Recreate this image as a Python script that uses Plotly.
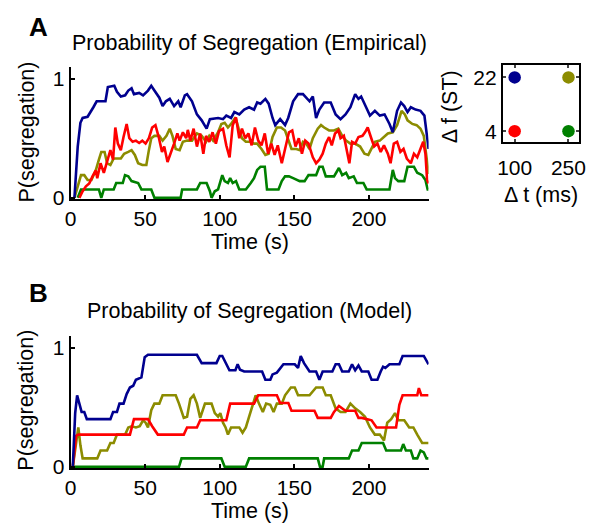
import plotly.graph_objects as go

# ---------------- DATA ----------------
# Panel A (Empirical)
a_blue_t = [2.6, 4.8, 6.6, 8.1, 11.4, 13.1, 15.3, 17.5, 23.4, 25, 29.3, 31.1, 33.7, 36.6, 38.7, 40.9, 42.5, 46, 48.6, 51.9,
            54.1, 56.2, 59.5, 61.7, 63.9, 66.5, 69.4, 72.2, 73.8, 76.6, 78.1, 81.4, 84.7, 87.9, 91.2, 93.4, 98.9, 102.2, 104.4, 107.6,
            109.8, 113.1, 116.4, 119.7, 123, 125.1, 127.3, 130.6, 132.8, 135.4, 137.2, 140.5, 143.8, 145.9, 149.2, 152.5, 155.8, 160.2, 162.4, 164.6,
            166.8, 170, 174.4, 177.7, 181, 184.3, 187.6, 190.8, 193, 194.8, 196.3, 200.7, 204, 207.3, 210.5, 213.8, 216, 218.9, 221.5, 223.7,
            225.9, 228.1, 231.3, 234.6, 237.2, 239, 240]
a_blue_v = [0, 0.43, 0.63, 0.67, 0.68, 0.72, 0.76, 0.81, 0.81, 0.93, 0.94, 0.89, 0.85, 0.86, 0.9, 0.92, 0.87, 0.88, 0.86, 0.9,
            0.94, 0.9, 0.84, 0.77, 0.81, 0.83, 0.77, 0.81, 0.76, 0.86, 0.87, 0.81, 0.70, 0.65, 0.58, 0.66, 0.67, 0.66, 0.69, 0.67,
            0.72, 0.70, 0.74, 0.76, 0.74, 0.80, 0.79, 0.83, 0.79, 0.67, 0.61, 0.66, 0.61, 0.67, 0.81, 0.87, 0.87, 0.81, 0.85, 0.67,
            0.74, 0.80, 0.80, 0.70, 0.66, 0.70, 0.76, 0.87, 0.83, 0.85, 0.81, 0.69, 0.73, 0.69, 0.70, 0.62, 0.55, 0.73, 0.80, 0.77,
            0.72, 0.76, 0.74, 0.73, 0.69, 0.48, 0.41]

a_red_t = [5.9, 8.1, 10.3, 12.5, 14.7, 16.9, 17.9, 20.1, 22.3, 24.5, 26.7, 28.5, 30, 31.7, 33.7, 35.5, 37.6, 39.4, 41.6, 43.8,
           46, 48.1, 50.3, 52.5, 54.7, 56.9, 59.1, 61.3, 62.8, 65, 67.2, 69.4, 71.6, 73.1, 75.3, 77.5, 78.6, 80.3, 82.5, 84.7,
           86.9, 89.0, 90.8, 93, 95.2, 97.4, 99.5, 102.2, 104.4, 106.6, 108.7, 110.9, 113.1, 114.9, 117.1, 119.2, 121.4, 123.6, 125.8, 128,
           130.2, 132.4, 134.6, 136.8, 138.9, 141.6, 143.8, 146.4, 148.6, 150.8, 153, 155.1, 157.3, 159.5, 162.4, 164.6, 166.8, 169, 171.1, 173.3,
           175.1, 177.3, 179.5, 181, 183.2, 185.4, 186.9, 188.7, 190.8, 193, 195.7, 197.4, 199.2, 201.3, 203.5, 205.7, 207.9, 210.1, 212.7, 214.5,
           216.7, 218.9, 221.1, 223.2, 225.4, 228.1, 230.2, 232.4, 234.6, 236.4, 237.9, 239, 240]
a_red_v = [0, 0.055, 0.096, 0.12, 0.18, 0.23, 0.165, 0.29, 0.21, 0.30, 0.40, 0.32, 0.59, 0.455, 0.40, 0.51, 0.62, 0.50, 0.47, 0.48,
           0.46, 0.48, 0.455, 0.50, 0.59, 0.61, 0.51, 0.385, 0.43, 0.30, 0.37, 0.455, 0.54, 0.48, 0.55, 0.50, 0.57, 0.48, 0.58, 0.43,
           0.54, 0.37, 0.52, 0.47, 0.55, 0.455, 0.56, 0.58, 0.44, 0.34, 0.61, 0.675, 0.50, 0.58, 0.50, 0.54, 0.44, 0.59, 0.48, 0.44,
           0.54, 0.37, 0.455, 0.36, 0.44, 0.29, 0.41, 0.55, 0.565, 0.43, 0.50, 0.37, 0.48, 0.455, 0.34, 0.29, 0.32, 0.37, 0.455, 0.51,
           0.44, 0.54, 0.565, 0.50, 0.52, 0.40, 0.29, 0.47, 0.455, 0.51, 0.52, 0.55, 0.59, 0.51, 0.43, 0.455, 0.385, 0.44, 0.37, 0.29,
           0.455, 0.47, 0.385, 0.41, 0.33, 0.29, 0.37, 0.34, 0.41, 0.47, 0.37, 0.15, 0.12]

a_olive_t = [2.6, 4.8, 7, 9.2, 11.4, 14, 16.9, 19, 20.6, 22.8, 24.5, 26.7, 28.9, 33.7, 35.9, 38.7, 40.9, 43.1, 45.3, 48.1,
             50.8, 52.5, 54.1, 56.2, 59.5, 61.7, 64.3, 66.5, 68.3, 70.5, 73.1, 75.3, 78.1, 81.4, 84.7, 87.9, 90.8, 93, 95.6, 98.9,
             101.1, 103.3, 105.5, 107.6, 110.5, 112.7, 114.9, 117.5, 120.8, 123, 125.1, 128, 130.6, 132.8, 135.4, 138.3, 141.1, 143.8, 145.9, 148.1,
             151.4, 153.6, 155.8, 158, 160.2, 162.4, 165.7, 167.9, 170, 173.3, 176.6, 179.5, 182.1, 184.7, 187.6, 190.8, 194.1, 197, 199.6, 201.8,
             204, 207.3, 210.1, 212.7, 216, 218.9, 221.9, 224.1, 225.9, 229.1, 232, 234.6, 236.8, 238.6, 240]
a_olive_v = [0, 0.096, 0.19, 0.19, 0.15, 0.15, 0.23, 0.32, 0.385, 0.385, 0.29, 0.275, 0.33, 0.33, 0.37, 0.385, 0.40, 0.36, 0.29, 0.275,
             0.275, 0.40, 0.50, 0.52, 0.52, 0.48, 0.52, 0.58, 0.52, 0.41, 0.40, 0.47, 0.48, 0.48, 0.54, 0.52, 0.47, 0.52, 0.48, 0.55,
             0.62, 0.63, 0.59, 0.62, 0.675, 0.58, 0.50, 0.47, 0.47, 0.455, 0.455, 0.41, 0.36, 0.37, 0.51, 0.59, 0.59, 0.565, 0.48, 0.41,
             0.41, 0.40, 0.47, 0.455, 0.41, 0.50, 0.58, 0.61, 0.59, 0.565, 0.565, 0.58, 0.52, 0.48, 0.455, 0.455, 0.43, 0.37, 0.36, 0.41,
             0.47, 0.48, 0.515, 0.54, 0.55, 0.61, 0.73, 0.70, 0.65, 0.62, 0.61, 0.58, 0.52, 0.34, 0.20]

a_green_t = [4.8, 7, 19, 20.6, 22.3, 28.9, 30.6, 35, 36.5, 38.7, 40.9, 45.3, 47.5, 54.1, 56.2, 73.8, 74.8, 84.7, 86.9, 91.2,
             93.4, 94.5, 96.7, 98.9, 101.7, 103.3, 105.5, 107, 108.7, 110.9, 113.1, 117.5, 120.8, 123, 125.1, 127.3, 130.2, 131.7, 139.4, 141.6,
             143.8, 146.4, 149.2, 153.6, 156.9, 159.5, 164.6, 166.8, 169, 171.1, 176.6, 179.9, 182.1, 184.7, 186.5, 189.8, 192, 196.3, 198.5, 213.8,
             216, 217.5, 219.7, 223.7, 225.9, 230.2, 232.4, 235.7, 237.9, 239.4, 240]
a_green_v = [0, 0.07, 0.07, 0.0, 0.07, 0.07, 0.124, 0.124, 0.19, 0.18, 0.14, 0.124, 0.07, 0.07, 0, 0, 0.07, 0.07, 0.124, 0.124,
             0.055, 0, 0.055, 0.07, 0.19, 0.14, 0.124, 0.165, 0.124, 0.14, 0.07, 0.07, 0.124, 0.165, 0.234, 0.26, 0.26, 0.07, 0.07, 0.14,
             0.18, 0.18, 0.165, 0.14, 0.14, 0.19, 0.19, 0.26, 0.26, 0.18, 0.18, 0.25, 0.19, 0.21, 0.165, 0.18, 0.124, 0.124, 0.07, 0.07,
             0.234, 0.165, 0.14, 0.14, 0.26, 0.26, 0.21, 0.19, 0.15, 0.07, 0.07]

# Panel B (Model)
b_blue_t = [1.5, 3.1, 4.4, 5.9, 7.4, 9.2, 10.9, 26.7, 28.5, 31.1, 32.8, 35.5, 37.6, 39.8, 42, 43.8, 47.5, 49.7, 51.9, 84.7,
            87.9, 97.8, 100, 101.7, 103.9, 106.5, 110.5, 112, 113.6, 116.4, 128.4, 130.6, 133.9, 135.4, 138.3, 142.7, 150.3, 152.5, 154.3, 156.5,
            160.2, 164.6, 166.8, 169, 175.5, 177.7, 179.9, 182.1, 186.5, 188.7, 190.8, 193, 195.2, 199.6, 201.8, 205.7, 207.9, 209.5, 211, 213.8,
            220.4, 222.6, 236.8, 240]
b_blue_v = [0, 0.45, 0.60, 0.53, 0.46, 0.46, 0.40, 0.40, 0.46, 0.46, 0.53, 0.53, 0.61, 0.665, 0.68, 0.73, 0.75, 0.92, 0.94, 0.94,
            0.87, 0.87, 0.93, 0.93, 0.87, 0.81, 0.81, 0.86, 0.815, 0.80, 0.80, 0.73, 0.73, 0.775, 0.79, 0.86, 0.86, 0.83, 0.93, 0.87,
            0.80, 0.80, 0.73, 0.80, 0.80, 0.86, 0.86, 0.80, 0.80, 0.86, 0.81, 0.85, 0.80, 0.80, 0.73, 0.73, 0.80, 0.84, 0.83, 0.86,
            0.86, 0.93, 0.93, 0.86]

b_red_t = [1.5, 3.7, 5.2, 39.8, 42.5, 51.9, 54.7, 58.5, 75.9, 78.1, 84.7, 86.9, 104.4, 107, 123, 125.8, 138.3, 140.5, 146, 148.1,
           163.5, 165.7, 174.4, 176.6, 179.9, 182.1, 184.3, 190.8, 193, 195.2, 198.5, 201.8, 205.1, 218.2, 220.4, 222.6, 232.4, 233.5, 235.1, 240]
b_red_v = [0, 0.26, 0.27, 0.27, 0.40, 0.40, 0.34, 0.27, 0.27, 0.33, 0.33, 0.39, 0.39, 0.53, 0.53, 0.60, 0.60, 0.535, 0.535, 0.47,
           0.47, 0.41, 0.41, 0.46, 0.51, 0.49, 0.47, 0.47, 0.41, 0.41, 0.40, 0.39, 0.33, 0.33, 0.52, 0.60, 0.60, 0.66, 0.60, 0.60]

b_olive_t = [1.5, 3.7, 5.2, 6.6, 8.1, 17.9, 20.1, 24.5, 26.7, 28.9, 31.1, 36.6, 38.7, 40.9, 43.8, 46.4, 48.6, 50.3, 51.9, 54.1,
             56.2, 59.5, 61.7, 70.5, 72.7, 75.9, 78.1, 80.3, 82.5, 84.7, 86.9, 90.1, 94.5, 96.7, 98.9, 100.4, 102.2, 103.9, 105.5, 107.6,
             113.1, 115.3, 117.5, 119.7, 121.9, 124.1, 126.3, 128.9, 131.1, 133.9, 136.1, 138.3, 141.6, 143.8, 147.7, 150.3, 152.5, 156.9, 160.2, 164.6,
             169, 171.1, 174.4, 177.7, 181, 184.3, 187.6, 190.8, 194.1, 197.4, 200.7, 204, 207.3, 210.1, 212.3, 214.9, 217.5, 219.7, 223.7, 227,
             229.8, 232.4, 235.7, 240]
b_olive_v = [0, 0.20, 0.33, 0.18, 0.07, 0.07, 0.136, 0.136, 0.20, 0.20, 0.27, 0.27, 0.33, 0.34, 0.33, 0.34, 0.39, 0.37, 0.33, 0.475,
             0.53, 0.53, 0.60, 0.60, 0.53, 0.41, 0.42, 0.57, 0.60, 0.53, 0.41, 0.53, 0.53, 0.45, 0.42, 0.45, 0.37, 0.33, 0.27, 0.33,
             0.33, 0.285, 0.33, 0.42, 0.52, 0.60, 0.53, 0.46, 0.53, 0.52, 0.46, 0.53, 0.53, 0.60, 0.665, 0.665, 0.60, 0.60, 0.60, 0.665,
             0.665, 0.60, 0.60, 0.49, 0.46, 0.46, 0.53, 0.49, 0.46, 0.42, 0.33, 0.27, 0.27, 0.22, 0.37, 0.40, 0.45, 0.39, 0.39, 0.33,
             0.33, 0.27, 0.20, 0.20]

b_green_t = [1.5, 72.7, 74.4, 101.1, 103.3, 117.5, 119.7, 165.7, 167.2, 169, 170, 186.5, 188.7, 193, 195.2, 209.5, 211.6, 221.5, 223, 224.8,
             228.1, 229.8, 232.4, 234.6, 236.8, 238.6, 240]
b_green_v = [0, 0, 0.07, 0.07, 0, 0, 0.07, 0.07, 0, 0, 0.07, 0.07, 0.136, 0.136, 0.20, 0.20, 0.136, 0.136, 0.19, 0.136,
             0.136, 0.07, 0.07, 0.136, 0.12, 0.07, 0.07]

# Legend panel (condition key)
key_dt = [100, 250, 100, 250]      # Δt (ms)
key_df = [22, 22, 4, 4]            # Δf (ST)
key_names = ["blue", "olive", "red", "green"]

x_ticks = [0, 50, 100, 150, 200]
y_ticks = [0, 1]

COL = {"blue": "#00008F", "red": "#FF0000", "olive": "#8C8C00", "green": "#008000"}

# ---------------- FIGURE ----------------
W, H = 596, 532
FONT = "Liberation Sans, Arial, Helvetica, sans-serif"
FS = 21      # tick labels
FT = 21.5    # titles
LW = 2.6

# Target positions are given in picture pixels; the photographed page shows
# the content slightly compressed vertically, so stretch a little.
SY = 0.985


def PX(x):
    return x / W


def PY(y):
    return 1 - (y / SY) / H


def dx(a, b):
    return [PX(a), PX(b)]


def dy(top, bottom):
    return [PY(bottom), PY(top)]


fig = go.Figure()

series_a = [("green", a_green_t, a_green_v), ("olive", a_olive_t, a_olive_v),
            ("red", a_red_t, a_red_v), ("blue", a_blue_t, a_blue_v)]
series_b = [("green", b_green_t, b_green_v), ("olive", b_olive_t, b_olive_v),
            ("red", b_red_t, b_red_v), ("blue", b_blue_t, b_blue_v)]

for name, t, v in series_a:
    fig.add_trace(go.Scatter(x=t, y=v, mode="lines", line=dict(color=COL[name], width=LW),
                             xaxis="x", yaxis="y", hoverinfo="skip"))
for name, t, v in series_b:
    fig.add_trace(go.Scatter(x=t, y=v, mode="lines", line=dict(color=COL[name], width=LW),
                             xaxis="x2", yaxis="y2", hoverinfo="skip"))
fig.add_trace(go.Scatter(x=key_dt, y=key_df, mode="markers",
                         marker=dict(color=[COL[n] for n in key_names], size=12.5, line=dict(width=0)),
                         xaxis="x3", yaxis="y3", hoverinfo="skip"))

common_x = dict(range=[0, 240], tickvals=x_ticks, ticks="inside", ticklen=4, tickwidth=2,
                showline=True, linewidth=2, linecolor="black", tickcolor="black",
                showgrid=False, zeroline=False, tickfont=dict(size=FS))
common_y = dict(range=[-0.012, 1.1], tickvals=y_ticks, ticks="inside", ticklen=4, tickwidth=2,
                showline=True, linewidth=2, linecolor="black", tickcolor="black",
                showgrid=False, zeroline=False, tickfont=dict(size=FS))

fig.update_layout(
    width=W, height=H, margin=dict(l=0, r=0, t=0, b=0),
    paper_bgcolor="white", plot_bgcolor="white", showlegend=False,
    font=dict(family=FONT, size=FS, color="black"),
    xaxis=dict(domain=dx(66, 432), anchor="y", **common_x),
    yaxis=dict(domain=dy(67, 200), anchor="x", **common_y),
    xaxis2=dict(domain=dx(66, 432), anchor="y2", **common_x),
    yaxis2=dict(domain=dy(337, 470), anchor="x2", **common_y),
    xaxis3=dict(domain=dx(508, 586), anchor="y3", range=[67.3, 280], tickvals=[100, 250],
                ticks="inside", ticklen=3, tickwidth=2, showline=True, linewidth=2, linecolor="black",
                mirror="ticks", showgrid=False, zeroline=False, tickfont=dict(size=FS),
                ticklabelstandoff=5, ticklabeloverflow="allow"),
    yaxis3=dict(domain=dy(65, 143), anchor="x3", range=[0.22, 26.24], tickvals=[4, 22],
                ticks="inside", ticklen=3, tickwidth=2, showline=True, linewidth=2, linecolor="black",
                mirror="ticks", showgrid=False, zeroline=False, tickfont=dict(size=FS)),
)

annos = [
    dict(text="<b>A</b>", x=PX(33), y=PY(27), font=dict(size=26)),
    dict(text="Probability of Segregation (Empirical)", x=PX(249), y=PY(43), font=dict(size=FT)),
    dict(text="Time (s)", x=PX(249), y=PY(243), font=dict(size=FT)),
    dict(text="P(segregation)", x=PX(21), y=PY(132.5), font=dict(size=FT), textangle=-90),
    dict(text="<b>B</b>", x=PX(33), y=PY(294), font=dict(size=26)),
    dict(text="Probability of Segregation (Model)", x=PX(249), y=PY(312.5), font=dict(size=FT)),
    dict(text="Time (s)", x=PX(249), y=PY(512.5), font=dict(size=FT)),
    dict(text="P(segregation)", x=PX(21), y=PY(401.7), font=dict(size=FT), textangle=-90),
    dict(text="\u0394 t (ms)", x=PX(547), y=PY(196), font=dict(size=FT)),
    dict(text="\u0394 f (ST)", x=PX(454), y=PY(107.5), font=dict(size=FT), textangle=-90),
]
for a in annos:
    fig.add_annotation(xref="paper", yref="paper", showarrow=False, xanchor="center", yanchor="middle", **a)

fig.write_html("out.html", config={"displayModeBar": False},
               post_script="document.body.style.margin='0';document.body.style.overflow='hidden';")
